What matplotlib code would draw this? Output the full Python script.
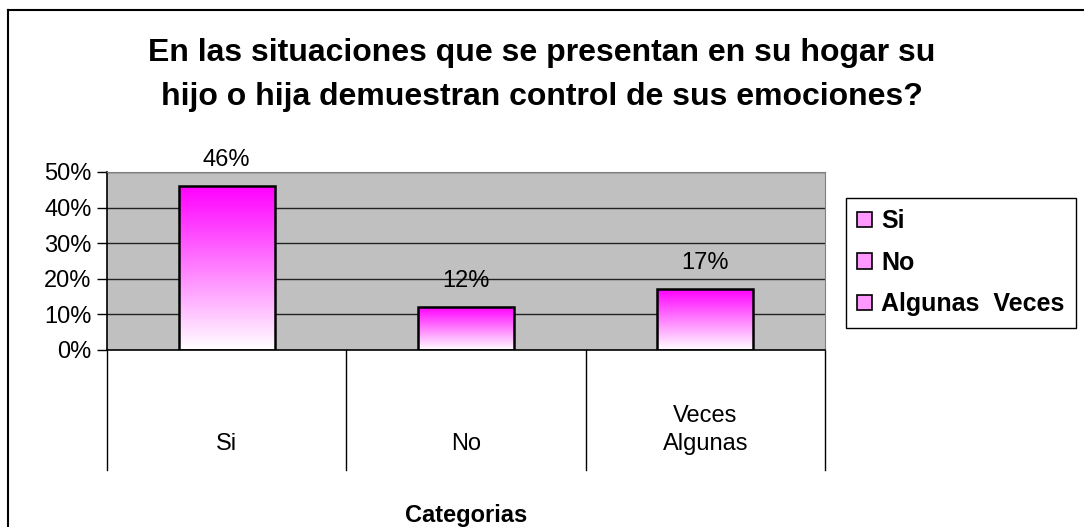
import numpy as np
import matplotlib
matplotlib.use('Agg')
import matplotlib.pyplot as plt
from matplotlib.colors import LinearSegmentedColormap
from matplotlib.patches import Rectangle, Patch
from matplotlib.lines import Line2D

plt.rcParams['font.family'] = ['Liberation Sans', 'DejaVu Sans']

# datos
categorias = ['Si', 'No', 'Algunas  Veces']
valores = [0.46, 0.12, 0.17]
etiquetas = ['46%', '12%', '17%']
ticks_y = [0, 0.1, 0.2, 0.3, 0.4, 0.5]
titulo = 'En las situaciones que se presentan en su hogar su\nhijo o hija demuestran control de sus emociones?'

W, H = 1084, 527
fs = 17
fig = plt.figure(figsize=(W / 100, H / 100), dpi=100)
fig.patch.set_facecolor('white')

# area del grafico
ax = fig.add_axes([107 / W, (H - 350) / H, 718 / W, 178 / H])
ax.set_facecolor('#C0C0C0')

cmap = LinearSegmentedColormap.from_list('rosa', ['#FFFFFF', '#FF00FF'])
grad = np.linspace(0, 1, 256).reshape(-1, 1)
ancho = 0.4

for y in ticks_y[1:]:
    ax.axhline(y, color='#222222', lw=1, zorder=1)

for i, v in enumerate(valores):
    ax.imshow(grad, extent=(i - ancho / 2, i + ancho / 2, 0, v), origin='lower',
              cmap=cmap, aspect='auto', zorder=2)
    ax.add_patch(Rectangle((i - ancho / 2, 0), ancho, v, fill=False,
                           edgecolor='black', lw=1.8, zorder=3))
    ax.annotate(etiquetas[i], (i, v), xytext=(0, 11), textcoords='offset points',
                ha='center', va='bottom', fontsize=fs)

ax.set_xlim(-0.5, 2.5)
ax.set_ylim(0, 0.5)
ax.set_yticks(ticks_y)
ax.set_yticklabels(['%d%%' % round(t * 100) for t in ticks_y], fontsize=fs)
ax.tick_params(axis='y', direction='out', length=7, width=1, pad=4)
ax.set_xticks([])
for s in ['top', 'right']:
    ax.spines[s].set_color('#808080')
for s in ['left', 'bottom']:
    ax.spines[s].set_color('black')
    ax.spines[s].set_linewidth(1.2)

# divisiones y etiquetas de categorias
tr = ax.get_xaxis_transform()
for x in [-0.5, 0.5, 1.5, 2.5]:
    ax.plot([x, x], [0, -0.674], color='black', lw=1, transform=tr, clip_on=False)
ax.text(0, -0.528, 'Si', transform=tr, ha='center', va='center', fontsize=fs)
ax.text(1, -0.528, 'No', transform=tr, ha='center', va='center', fontsize=fs)
ax.text(2, -0.528, 'Algunas', transform=tr, ha='center', va='center', fontsize=fs)
ax.text(2, -0.371, 'Veces', transform=tr, ha='center', va='center', fontsize=fs)
ax.text(1, -0.927, 'Categorias', transform=tr, ha='center', va='center',
        fontsize=fs, fontweight='bold')

# titulo
fig.text(542 / W, 1 - 75 / H, titulo, ha='center', va='center', fontsize=23,
         fontweight='bold', linespacing=1.6)

# leyenda
handles = [Patch(facecolor='#FF99FF', edgecolor='black', lw=1.2) for _ in categorias]
leg = fig.legend(handles, categorias, loc='upper left',
                 bbox_to_anchor=(846 / W, 1 - 198 / H), borderaxespad=0,
                 prop={'weight': 'bold', 'size': 18}, handlelength=0.6,
                 handleheight=0.6, handletextpad=0.35, labelspacing=0.7,
                 borderpad=0.45, fancybox=False, framealpha=1)
leg.get_frame().set_edgecolor('black')
leg.get_frame().set_linewidth(1)

# borde exterior
fig.add_artist(Line2D([8 / W, 1], [1 - 10 / H, 1 - 10 / H], color='black', lw=1.5))
fig.add_artist(Line2D([8 / W, 8 / W], [0, 1 - 10 / H], color='black', lw=1.5))

fig.savefig('out.png', dpi=100)
